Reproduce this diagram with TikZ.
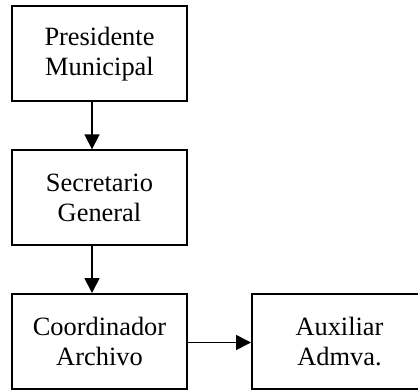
\documentclass[tikz,border=0pt]{standalone}
\usepackage{fontspec}
\setmainfont{Liberation Serif}
\usetikzlibrary{arrows.meta}
\tikzset{
  unit/.style={draw, line width=1pt, minimum width=87.5pt, minimum height=47.5pt,
    inner sep=0pt, align=center, font=\fontsize{13.2}{15}\selectfont},
  link/.style={line width=0.9pt, -{Triangle[length=7.5pt,width=7.5pt]}}
}
\begin{document}
\begin{tikzpicture}[x=0.5pt,y=-0.5pt]
\useasboundingbox (0,0) rectangle (418,391);
\clip (0,0) rectangle (418,391);
\node [unit] (pres) at (99.5,53.8) {Presidente\\Municipal};
\node [unit] (sec) at (99.5,197.8) {Secretario\\General};
\node [unit] (coord) at (99.5,341.5) {Coordinador\\Archivo};
\node [unit] (aux) at (339.5,341.5) {Auxiliar\\Admva.};
\draw [link] ([xshift=-3.75pt]pres.south) -- ([xshift=-3.75pt]sec.north);
\draw [link] ([xshift=-3.75pt]sec.south) -- ([xshift=-3.75pt]coord.north);
\draw [link] ([yshift=-0.5pt]coord.east) -- ([yshift=-0.5pt]aux.west);
\end{tikzpicture}
\end{document}
